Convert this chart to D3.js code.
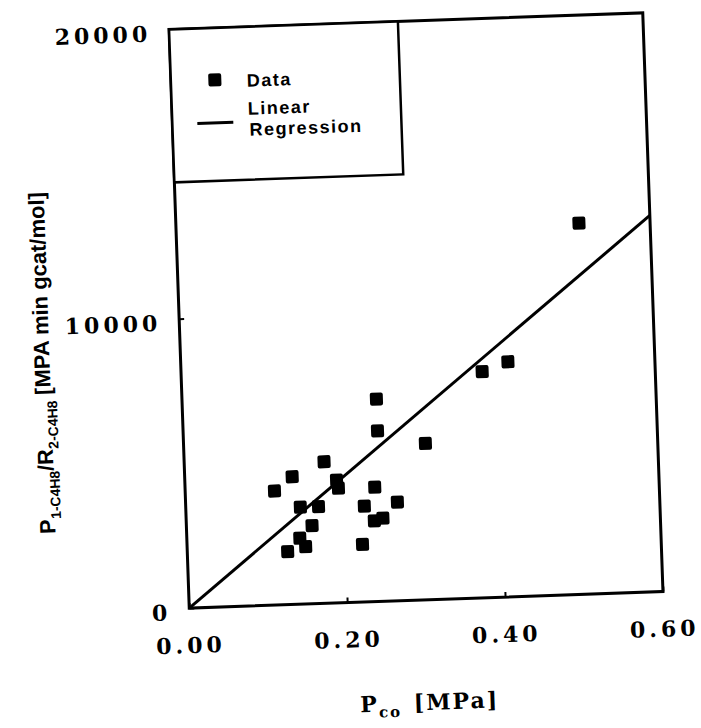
<!DOCTYPE html>
<meta charset="utf-8">
<style>
  body { margin: 0; background: #fff; }
  .axis text {
    font-family: "DejaVu Serif", serif;
    font-weight: bold;
    font-size: 22px;
    letter-spacing: 4px;
    fill: #000;
  }
  .axis line { stroke: #000; stroke-width: 2px; }
  .legend text, .ylabel {
    font-family: "Liberation Sans", Arial, sans-serif;
    font-weight: bold;
  }
  .legend text { font-size: 18px; letter-spacing: 1.5px; }
  .xlabel {
    font-family: "DejaVu Serif", serif;
    font-weight: bold;
    font-size: 22px;
    letter-spacing: 2px;
  }
</style>

<div class="chart"></div>

<script src="https://d3js.org/d3.v7.min.js"></script>

<script>
    // P_CO [MPa] and P/R ratio for each measured point
    var pco   = [0.246, 0.246, 0.306, 0.177, 0.136, 0.113, 0.192, 0.194, 0.145, 0.168, 0.240, 0.268,
                 0.226, 0.159, 0.143, 0.150, 0.127, 0.222, 0.238, 0.249, 0.381, 0.414, 0.510];
    var ratio = [6990, 5890, 5400, 4890, 4410, 3940, 4240, 3960, 3350, 3350, 3950, 3410,
                 3310, 2700, 2280, 1980, 1830, 1990, 2790, 2870, 7810, 8120, 12820];

    // regression line end points
    var fitX = [0, 0.6];
    var fitY = [0, 13000];

    var xTicks = [0, 0.2, 0.4, 0.6];
    var yTicks = [0, 10000, 20000];

    var margin = {top: 21, left: 179},
        width = 474,
        height = 579;

    var svg = d3.select('.chart')
        .append("svg")
        .attr("width", 701)
        .attr("height", 728);

    // the scanned page sits a bit crooked, about 2 degrees
    var cx = margin.left + width / 2,
        cy = margin.top + height / 2;
    var g = svg.append("g")
        .attr("transform", "rotate(-2," + cx + "," + cy + ") translate(" + margin.left + "," + margin.top + ")");

    var xScale = d3.scaleLinear().domain([0, 0.6]).range([0, width]);
    var yScale = d3.scaleLinear().domain([0, 20000]).range([height, 0]);

    var xAxis = d3.axisBottom(xScale)
        .tickValues(xTicks)
        .tickFormat(d3.format(".2f"))
        .tickSizeInner(-5)
        .tickSizeOuter(0);

    var yAxis = d3.axisLeft(yScale)
        .tickValues(yTicks)
        .tickFormat(d3.format("d"))
        .tickSizeInner(-5)
        .tickSizeOuter(0);

    g.append("g")
        .attr("class", "x axis")
        .attr("transform", "translate(0," + height + ")")
        .call(xAxis)
        .call((a) => a.select(".domain").remove())
        .selectAll("text")
        .attr("y", 45)
        .attr("dy", null);

    g.append("g")
        .attr("class", "y axis")
        .call(yAxis)
        .call((a) => a.select(".domain").remove())
        .selectAll("text")
        .attr("x", -18)
        .attr("y", 11)
        .attr("dy", null);

    // plot frame
    g.append("rect")
        .attr("width", width)
        .attr("height", height)
        .attr("fill", "none")
        .attr("stroke", "#000")
        .attr("stroke-width", 3);

    // regression
    var line = d3.line()
        .x((d) => xScale(d[0]))
        .y((d) => yScale(d[1]));

    g.append("path")
        .datum(d3.zip(fitX, fitY))
        .attr("d", line)
        .attr("fill", "none")
        .attr("stroke", "#000")
        .attr("stroke-width", 3);

    // data squares
    var sq = 13;
    g.selectAll(".pt")
        .data(d3.zip(pco, ratio))
        .enter().append("rect")
        .attr("class", "pt")
        .attr("x", (d) => xScale(d[0]) - sq / 2)
        .attr("y", (d) => yScale(d[1]) - sq / 2)
        .attr("width", sq)
        .attr("height", sq)
        .attr("rx", 2)
        .attr("fill", "#000");

    // legend box
    var legend = g.append("g").attr("class", "legend");
    legend.append("rect")
        .attr("width", 229)
        .attr("height", 153)
        .attr("fill", "#fff")
        .attr("stroke", "#000")
        .attr("stroke-width", 2.5);
    legend.append("rect")
        .attr("x", 44 - sq / 2)
        .attr("y", 52 - sq / 2)
        .attr("width", sq)
        .attr("height", sq)
        .attr("rx", 2)
        .attr("fill", "#000");
    legend.append("text").attr("x", 76).attr("y", 60).text("Data");
    legend.append("line")
        .attr("x1", 25).attr("x2", 61)
        .attr("y1", 95).attr("y2", 95)
        .attr("stroke", "#000")
        .attr("stroke-width", 3);
    legend.append("text").attr("x", 76).attr("y", 88).text("Linear");
    legend.append("text").attr("x", 77).attr("y", 109).text("Regression");

    // axis titles
    var ylab = g.append("text")
        .attr("class", "ylabel")
        .attr("transform", "translate(-131,329) rotate(-90)")
        .attr("text-anchor", "middle")
        .attr("font-size", "22px");
    ylab.append("tspan").text("P");
    ylab.append("tspan").attr("dy", 6).attr("font-size", "14px").text("1-C4H8");
    ylab.append("tspan").attr("dy", -6).text("/R");
    ylab.append("tspan").attr("dy", 6).attr("font-size", "14px").text("2-C4H8");
    ylab.append("tspan").attr("dy", -6).attr("dx", 6).text("[MPA min gcat/mol]");

    var xlab = g.append("text")
        .attr("class", "xlabel")
        .attr("x", width / 2)
        .attr("y", height + 110)
        .attr("text-anchor", "middle");
    xlab.append("tspan").text("P");
    xlab.append("tspan").attr("dy", 6).attr("font-size", "15px").text("co");
    xlab.append("tspan").attr("dy", -6).attr("dx", 12).text("[MPa]");
</script>
